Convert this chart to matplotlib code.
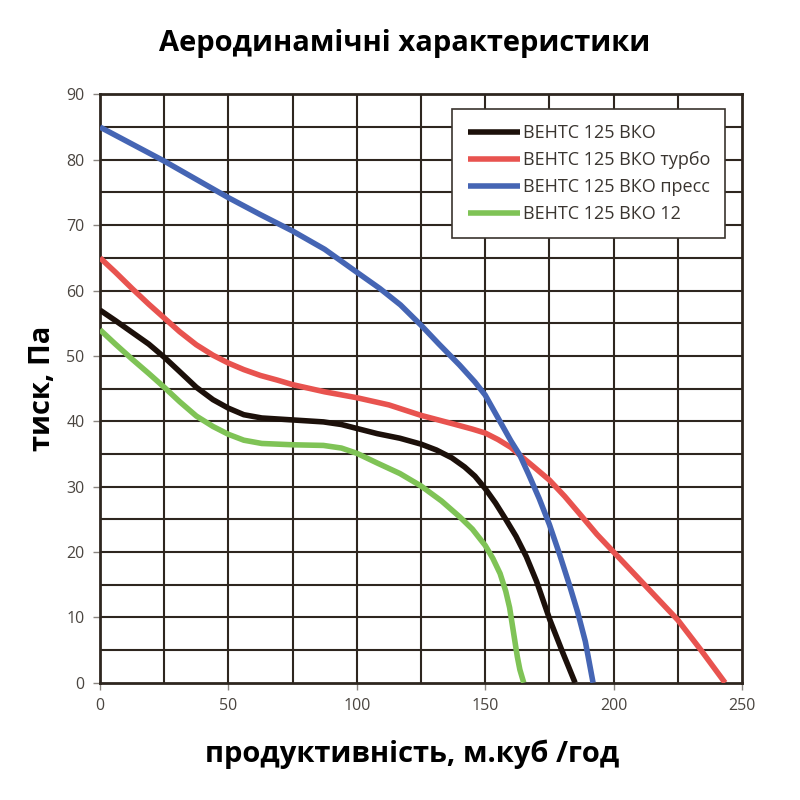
import matplotlib.pyplot as plt

# ВЕНТС 125 ВКО
x_vko = [0, 6, 12.5, 19, 25, 31, 37.5, 44, 50, 56, 63, 75, 87, 94, 100, 108, 116.8, 125, 131, 137, 142, 146, 150,
         154, 158, 162, 166, 170, 175.2, 180, 185]
y_vko = [57, 55.4, 53.6, 51.8, 49.8, 47.6, 45.2, 43.3, 42, 41.0, 40.5, 40.2, 39.9, 39.5, 38.9, 38.1, 37.4, 36.5, 35.6,
         34.4, 33.0, 31.6, 29.7, 27.5, 25.0, 22.4, 19.3, 15.5, 9.6, 4.8, 0]

# ВЕНТС 125 ВКО турбо
x_turbo = [0, 6, 12.5, 19, 25, 31, 37.5, 44, 50, 56, 62.5, 69, 75, 87.5, 100, 112.5, 125, 137.5, 145, 150, 155, 160,
           163.5, 169, 175, 181, 187.5, 193.5, 200, 212.5, 225, 234, 243.4]
y_turbo = [65, 62.8, 60.3, 57.9, 55.8, 53.7, 51.7, 50.1, 48.9, 47.9, 47.0, 46.3, 45.6, 44.5, 43.6, 42.5, 40.9, 39.6,
           38.8, 38.2, 37.2, 36.0, 34.8, 33.0, 31.0, 28.5, 25.5, 22.7, 20.0, 14.8, 9.6, 5.0, 0]

# ВЕНТС 125 ВКО пресс
x_press = [0, 12.5, 25, 37.5, 50, 62.5, 75, 87.5, 100, 109, 117, 125, 132, 140, 146, 150, 155, 160, 163.5, 167, 171,
           175, 179, 183, 186, 189, 192]
y_press = [85, 82.4, 79.8, 77.0, 74.2, 71.6, 69.1, 66.3, 62.8, 60.3, 57.8, 54.7, 51.8, 48.6, 46.0, 44.0, 40.5, 37.0,
           34.8, 31.8, 28.2, 24.2, 19.6, 14.7, 10.8, 6.3, 0]

# ВЕНТС 125 ВКО 12
x_12 = [0, 6, 12.5, 19, 25, 31, 37.5, 44, 50, 56, 63, 75, 87, 94, 100, 108, 116.8, 125, 133, 140, 145, 150, 153,
        155.8, 158, 159.5, 160.5, 161.5, 162.5, 163.5, 165]
y_12 = [54, 51.8, 49.5, 47.3, 45.2, 43.0, 40.8, 39.2, 38.0, 37.1, 36.6, 36.4, 36.3, 35.9, 35.1, 33.6, 32.0, 30.1, 27.8,
        25.4, 23.5, 21.0, 19.0, 16.7, 14.0, 11.5, 9.0, 6.5, 4.0, 2.0, 0]

labels = ['ВЕНТС 125 ВКО', 'ВЕНТС 125 ВКО турбо', 'ВЕНТС 125 ВКО пресс', 'ВЕНТС 125 ВКО 12']
colors = ['#1c100a', '#e8534f', '#4565b4', '#7fc356']

plt.rcParams['font.family'] = ['Open Sans', 'DejaVu Sans']

fig = plt.figure(figsize=(8, 8), dpi=100)
ax = fig.add_axes([0.125, 0.1466, 0.8025, 0.7354])

grid_c = '#2e261f'
for gx in range(25, 250, 25):
    ax.axvline(gx, color=grid_c, lw=1.5, zorder=1)
for gy in range(5, 90, 5):
    ax.axhline(gy, color=grid_c, lw=1.5, zorder=1)

series = [(x_vko, y_vko), (x_turbo, y_turbo), (x_press, y_press), (x_12, y_12)]
for (xs, ys), lab, c in zip(series, labels, colors):
    ax.plot(xs, ys, color=c, lw=4, label=lab, solid_capstyle='butt', solid_joinstyle='round', zorder=3)

ax.set_xlim(0, 250)
ax.set_ylim(0, 90)
ax.set_xticks(range(0, 251, 50))
ax.set_yticks(range(0, 91, 10))
ax.tick_params(axis='both', labelsize=11.5, colors='#8a8580', labelcolor='#4a4540',
               length=5, width=1, direction='out', pad=6)
for s in ax.spines.values():
    s.set_color(grid_c)
    s.set_linewidth(2)

leg = ax.legend(loc='upper right', bbox_to_anchor=(0.974, 0.976), borderaxespad=0,
                fontsize=13, frameon=True, fancybox=False, handlelength=2.9,
                handletextpad=0.15, labelspacing=0.5, borderpad=0.85)
leg.get_frame().set_edgecolor('#3a342e')
leg.get_frame().set_linewidth(1.2)
leg.get_frame().set_alpha(1)
for t in leg.get_texts():
    t.set_color('#3a3530')

fig.text(0.506, 0.945, 'Аеродинамічні характеристики', ha='center', va='center',
         fontsize=21, fontweight='bold')
fig.text(0.515, 0.057, 'продуктивність, м.куб /год', ha='center', va='center',
         fontsize=21, fontweight='bold')
fig.text(0.053, 0.515, 'тиск, Па', ha='center', va='center', rotation=90,
         fontsize=21, fontweight='bold')

fig.savefig('out.png', dpi=100, facecolor='white')
